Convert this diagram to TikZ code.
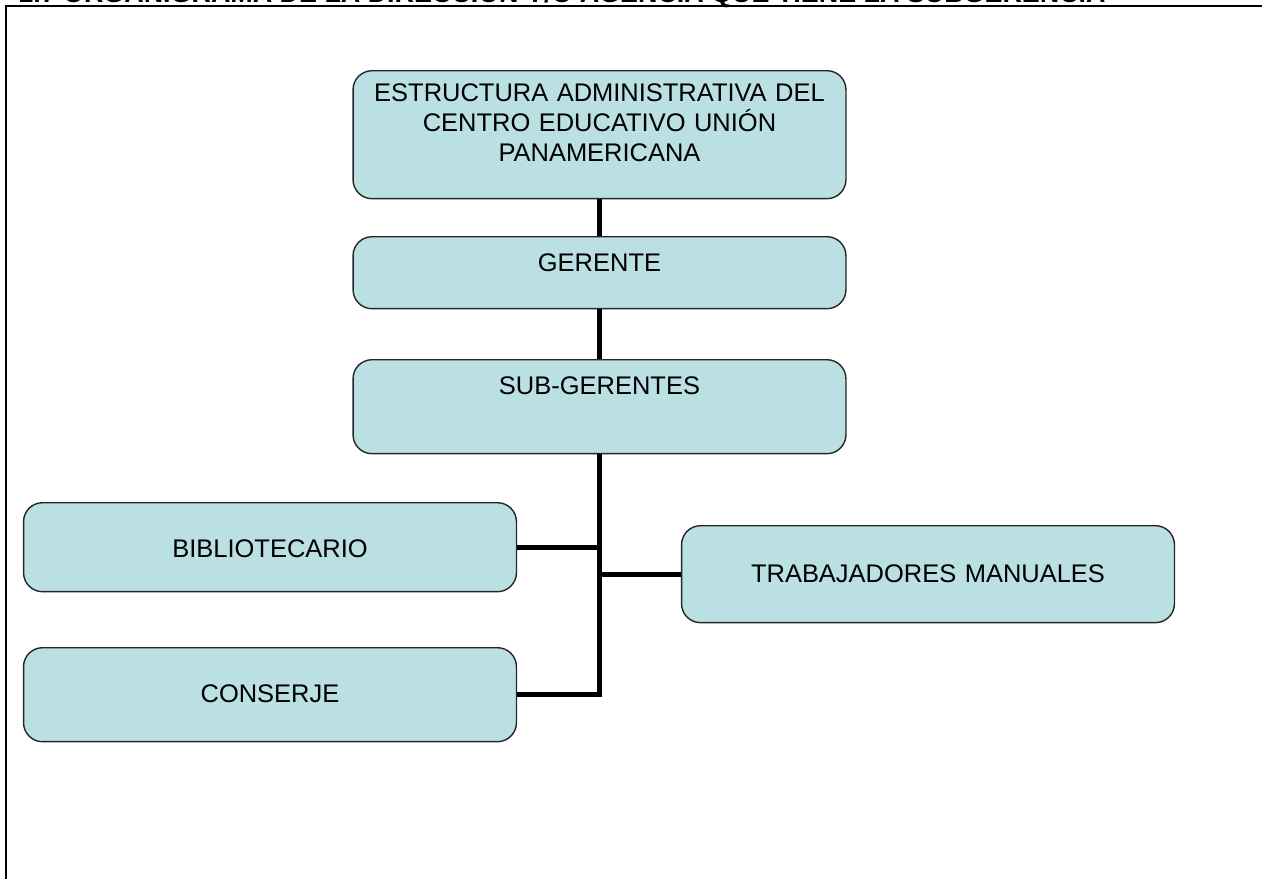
\documentclass[tikz,border=0pt]{standalone}
\usepackage{fontspec}
\setmainfont{Liberation Sans}
\usepackage{tikz}
\definecolor{boxblue}{RGB}{187,224,227}
\tikzset{
  orgbox/.style={draw=black!85,fill=boxblue,line width=0.8pt,rounded corners=0.38cm,
    text width=9.86cm,align=center,inner sep=0pt,anchor=north,
    font=\fontsize{14.5}{17}\selectfont},
  tie/.style={line width=2.8pt,line join=miter},
}
\begin{document}
\begin{tikzpicture}[x=0.02cm,y=-0.02cm]
      \useasboundingbox (0,0) rectangle (1262,879);
      \clip (0,0) rectangle (1262,879);
      % titulo (cortado arriba) y marco
      \node [anchor=base west,inner sep=0pt,font=\fontsize{15.3}{17}\bfseries] (titulo) at (18,2.5)
        {1.7 ORGANIGRAMA DE LA DIRECCIÓN Y/O AGENCIA QUE TIENE LA SUBGERENCIA};
      \draw [line width=1.3pt] (6,879) -- (6,6) -- (1262,6);
      % cajas
      \node [orgbox,text height=0.62cm,text depth=1.94cm] (est) at (599.5,70)
        {ESTRUCTURA ADMINISTRATIVA DEL\\ CENTRO EDUCATIVO UNIÓN\\ PANAMERICANA};
      \node [orgbox,text height=0.70cm,text depth=0.74cm] (ger) at (599.5,236) {GERENTE};
      \node [orgbox,text height=0.70cm,text depth=1.18cm] (sub) at (599.5,359) {SUB-GERENTES};
      \node [orgbox,text height=1.10cm,text depth=0.68cm] (bib) at (270,502) {BIBLIOTECARIO};
      \node [orgbox,text height=1.14cm,text depth=0.80cm] (tra) at (928,525) {TRABAJADORES MANUALES};
      \node [orgbox,text height=1.10cm,text depth=0.78cm] (con) at (270,647) {CONSERJE};
      % lineas
      \draw [tie] (est) -- (ger);
      \draw [tie] (ger) -- (sub);
      \draw [tie] (sub.south) |- (con.east);
      \draw [tie] (bib.east) -- (bib.east -| sub.south);
      \draw [tie] (tra.west) -- (tra.west -| sub.south);
\end{tikzpicture}
\end{document}
